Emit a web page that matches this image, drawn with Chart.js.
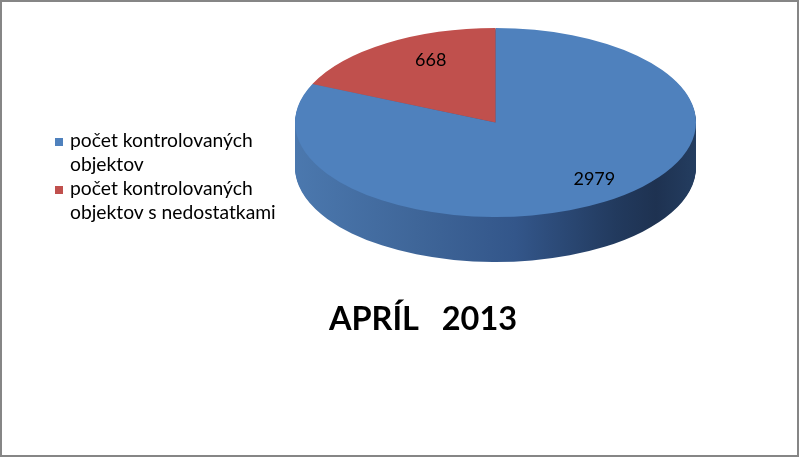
<!DOCTYPE html>
<html>
<head>
<meta charset="utf-8">
<script src="https://cdn.jsdelivr.net/npm/chart.js@4/dist/chart.umd.min.js"></script>
<style>
  html, body { margin: 0; padding: 0; background: #fff; }
  #wrap { position: relative; width: 799px; height: 457px; overflow: hidden; font-family: Lato, "Open Sans", sans-serif; }
  #pie { position: absolute; left: 0; top: 0; }
  #frame { position: absolute; left: 0; top: 0; right: 0; bottom: 0; border: 2px solid #868686; pointer-events: none; }
  #legend { position: absolute; left: 55px; top: 128px; margin: 0; padding: 0; list-style: none; font-size: 19.3px; line-height: 24px; color: #000; }
  #legend li { position: relative; padding-left: 15px; width: 222px; }
  #legend .box { position: absolute; left: 0; top: 10px; width: 8px; height: 8px; }
  #title { position: absolute; left: 273px; top: 300px; width: 300px; text-align: center; white-space: pre; font-weight: bold; font-size: 32.5px; line-height: 36px; color: #000; }
</style>
</head>
<body>
<div id="wrap">
  <canvas id="pie" width="799" height="457"></canvas>
  <ul id="legend"></ul>
  <div id="title"></div>
  <div id="frame"></div>
</div>
<script>
const labels = ["počet kontrolovaných objektov", "počet kontrolovaných objektov s nedostatkami"];
const counts = [2979, 668];
const colors = ["#4f81bd", "#c0504d"];
const sideStops = [[0, "#4b78ae"], [0.3, "#3f6699"], [0.55, "#33568a"], [0.8, "#223a5e"], [0.9, "#1e3251"], [1, "#243d60"]];
const titleText = "APRÍL   2013";

// where the tilted pie sits on the page (top face ellipse + side height)
const PIE = { cx: 495.5, cy: 122.5, rx: 200.5, ry: 94.5, depth: 45, labelAt: 0.75, labelDx: 17, labelDy: -3 };

document.getElementById("title").textContent = titleText;

const legend = document.getElementById("legend");
labels.forEach((text, i) => {
  const li = document.createElement("li");
  const box = document.createElement("span");
  box.className = "box";
  box.style.background = colors[i];
  li.appendChild(box);
  li.appendChild(document.createTextNode(text));
  legend.appendChild(li);
});

// squash the library's circle into the ellipse of the top face
function tilt(ctx, arc) {
  const r = arc.outerRadius;
  ctx.translate(PIE.cx, PIE.cy);
  ctx.scale(PIE.rx / r, PIE.ry / r);
  ctx.translate(-arc.x, -arc.y);
}

const pie3d = {
  id: "pie3d",
  beforeDatasetsDraw(chart) {
    const ctx = chart.ctx;
    const arcs = chart.getDatasetMeta(0).data;
    const first = arcs[0];
    const r = first.outerRadius;

    // side wall: the same arcs stacked downwards with a shaded fill
    for (let d = PIE.depth; d >= 1; d--) {
      ctx.save();
      ctx.translate(0, d);
      tilt(ctx, first);
      const grad = ctx.createLinearGradient(first.x - r, 0, first.x + r, 0);
      sideStops.forEach(([p, c]) => grad.addColorStop(p, c));
      arcs.forEach(arc => {
        const ghost = Object.create(arc);
        ghost.options = Object.assign({}, arc.options, { backgroundColor: grad });
        ghost.draw(ctx);
      });
      ctx.restore();
    }

    ctx.save();
    tilt(ctx, first);
  },
  afterDatasetsDraw(chart) {
    const ctx = chart.ctx;
    ctx.restore();

    // value labels
    const arcs = chart.getDatasetMeta(0).data;
    ctx.save();
    ctx.font = "18px Lato, 'Open Sans', sans-serif";
    ctx.fillStyle = "#000";
    ctx.textAlign = "center";
    ctx.textBaseline = "middle";
    arcs.forEach((arc, i) => {
      const mid = (arc.startAngle + arc.endAngle) / 2;
      const x = PIE.cx + PIE.labelDx + Math.cos(mid) * PIE.labelAt * PIE.rx;
      const y = PIE.cy + PIE.labelDy + Math.sin(mid) * PIE.labelAt * PIE.ry;
      ctx.fillText(String(counts[i]), x, y);
    });
    ctx.restore();
  }
};

new Chart(document.getElementById("pie"), {
  type: "pie",
  data: {
    labels: labels,
    datasets: [{
      data: counts,
      backgroundColor: colors,
      borderWidth: 0,
      hoverOffset: 0,
      clip: false
    }]
  },
  options: {
    responsive: false,
    animation: false,
    events: [],
    layout: { padding: { left: 295, right: 103, top: 0, bottom: 0 } },
    plugins: {
      legend: { display: false },
      tooltip: { enabled: false },
      title: { display: false }
    }
  },
  plugins: [pie3d]
});
</script>
</body>
</html>
